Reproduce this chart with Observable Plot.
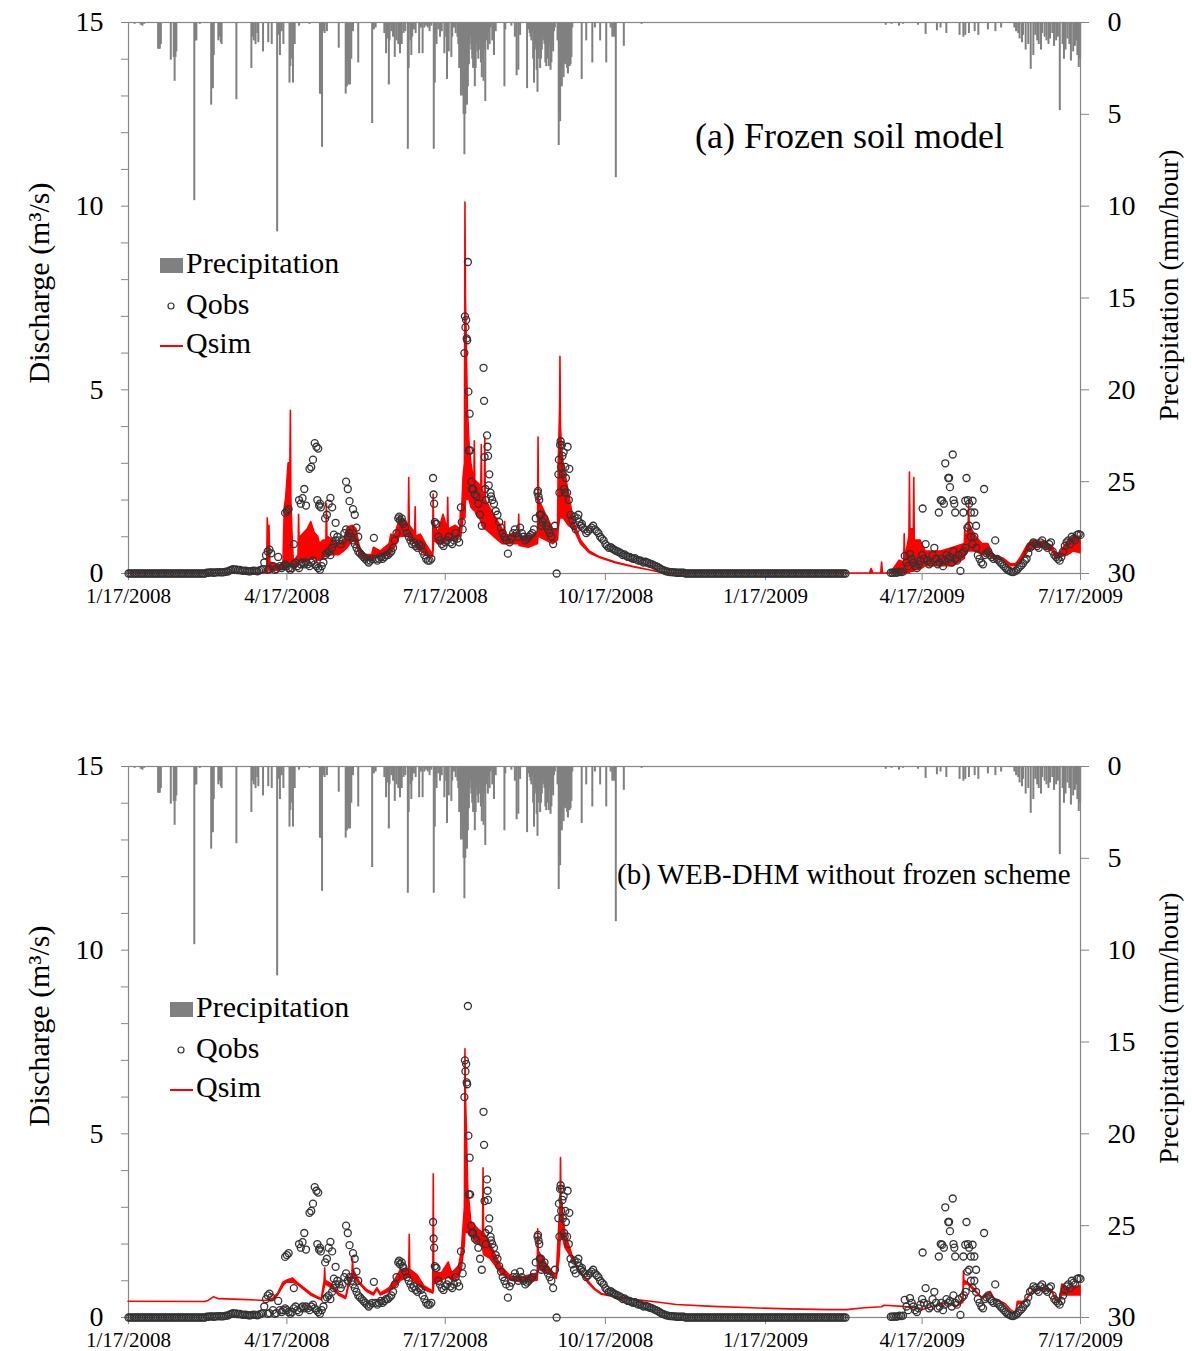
<!DOCTYPE html>
<html><head><meta charset="utf-8">
<script src="https://cdn.jsdelivr.net/npm/d3@7"></script>
<script src="https://cdn.jsdelivr.net/npm/@observablehq/plot@0.6"></script>
<style>
body{margin:0;background:#fff;}
#root{position:relative;width:1192px;height:1351px;overflow:hidden;font-family:"Liberation Serif","Times New Roman",serif;}
#root > svg, #root > div{position:absolute;left:0;}
</style></head><body><div id="root"></div>
<script>
// ---------- data (day offsets from 1/17/2008) ----------
const startDate = [2008, 1, 17];
const xTickLabels = ["1/17/2008","4/17/2008","7/17/2008","10/17/2008","1/17/2009","4/17/2009","7/17/2009"];
const dischargeTicks = [0,1,2,3,4,5,6,7,8,9,10,11,12,13,14,15];
const dischargeLabels = [0,5,10,15];
const precipTicks = [0,5,10,15,20,25,30];
const panelTitles = ["(a) Frozen soil model", "(b) WEB-DHM without frozen scheme"];
const legendLabels = ["Precipitation", "Qobs", "Qsim"];

// observed discharge, daily, in four parts with their starting day offsets
const qobsStarts = [0, 78, 320, 438];
const qobsJanApr2008 = [
 0,0,0,0,0,0,0,0,0,0,0,0,0,0,0,
 0,0,0,0,0,0,0,0,0,0,0,0,0,0,0,
 0,0,0,0,0,0,0,0,0,0,0,0,0,0,0,
 0.02,0.02,0.03,0.03,0.02,0.03,0.03,0.04,0.03,0.03,0.04,0.05,0.05,
 0.08,0.1,0.12,0.1,0.11,0.09,0.1,0.08,0.07,0.08,
 0.07,0.06,0.06,0.07,0.08,0.07,0.06,0.08,0.1,0.12];
const qobsAprNov2008 = [
 0.3,0.5,0.6,0.65,0.55,0.2,0.1,0.12,0.45,0.2,0.15,0.2,
 0.25,0.2,0.15,0.1,0.15,0.25,0.3,0.2,0.15,0.25,
 0.3,0.25,0.3,0.25,0.2,0.3,0.35,0.25,0.2,0.15,
 0.1,0.2,0.3,0.5,0.55,0.6,0.5,0.7,0.8,0.9,
 1.0,0.9,0.8,0.9,1.1,1.2,1.0,1.1,1.0,0.9,
 0.8,0.7,0.6,0.55,0.5,0.45,0.4,0.35,0.3,0.35,
 0.4,0.97,0.4,0.35,0.4,0.45,0.4,0.45,0.5,0.5,
 0.55,0.6,0.7,0.9,1.1,1.5,1.45,1.5,1.35,1.25,
 1.1,1.0,0.9,0.8,0.85,0.75,0.7,0.8,0.75,0.6,
 0.5,0.4,0.35,0.35,0.4,2.6,1.4,1.35,1.0,0.9,
 0.8,0.75,0.85,0.9,1.0,0.85,0.8,0.9,1.1,0.95,
 0.85,1.8,1.2,6.0,6.9,8.48,4.35,2.5,2.3,2.15,
 2.1,1.9,1.6,1.3,5.6,2.3,3.76,2.4,2.2,2.0,
 1.9,1.7,1.6,1.4,1.25,1.1,1.0,0.9,0.54,0.85,
 0.95,1.1,1.2,1.1,1.0,1.25,1.1,1.0,0.9,0.95,
 1.0,1.05,1.1,1.2,1.5,2.2,2.0,1.6,1.4,1.5,
 1.3,1.2,1.1,1.0,0.8,1.3,0,2.7,3.5,3.5,
 3.3,2.9,2.2,2.0,1.6,1.45,1.3,1.2,1.5,1.4,
 1.3,1.25,1.2,1.1,1.15,1.2,1.25,1.3,1.2,1.15,
 1.1,1.0,0.95,0.9,0.8,0.75,0.7,0.72,0.68,0.65,
 0.62,0.6,0.58,0.55,0.5,0.52,0.48,0.45,0.45,0.42,
 0.4,0.42,0.38,0.35,0.36,0.33,0.3,0.32,0.3,0.28,
 0.26,0.25,0.22,0.2,0.18,0.15,0.12,0.1,0.08,0.06,
 0.05,0.04,0.04,0.03,0.03,0.02,0.02,0.02,0.02,0.02];
const qobsDec2008Mar2009 = [
 0,0,0,0,0,0,0,0,0,0, 0,0,0,0,0,0,0,0,0,0, 0,0,0,0,0,0,0,0,0,0,
 0,0,0,0,0,0,0,0,0,0, 0,0,0,0,0,0,0,0,0,0, 0,0,0,0,0,0,0,0,0,0,
 0,0,0,0,0,0,0,0,0,0, 0,0,0,0,0,0,0,0,0,0, 0,0,0,0,0,0,0,0,0,0,
 0,0,0];
const qobsMarJul2009 = [
 0.02,0.02,0.03,0.02,0.03,0.05,0.04,0.05,
 0.48,0.3,0.2,0.53,0.4,0.3,0.2,0.15,0.25,0.35,
 0.5,0.4,0.8,0.35,0.25,0.3,0.5,0.7,0.4,0.25,
 0.3,0.4,0.2,0.35,0.5,0.4,0.45,0.3,0.6,0.4,
 0.35,0.5,0.07,0.55,0.6,0.7,1.25,1.3,1.0,0.8,
 1.0,0.7,0.5,0.4,0.3,0.25,0.5,0.55,0.6,0.5,
 0.45,0.4,0.9,0.4,0.35,0.3,0.25,0.2,0.15,0.1,
 0.08,0.05,0.04,0.05,0.08,0.12,0.18,0.22,0.28,0.35,
 0.4,0.55,0.7,0.75,0.85,0.8,0.75,0.7,0.85,0.9,
 0.8,0.75,0.7,0.8,0.85,0.6,0.5,0.45,0.4,0.35,
 0.45,0.6,0.75,0.85,0.9,0.8,1.0,0.95,0.9,1.05,
 1.07,1.05];
// additional readings on the same days [day, value]
const qobsExtra = [
 [80,0.1],[81,0.12],[90,1.65],[91,1.7],[92,1.75],[95,0.8],[98,2.0],[99,1.9],[100,2.05],[101,2.3],[102,1.85],
 [104,2.85],[105,2.9],[106,3.1],[107,3.55],[108,3.45],[108.5,2.0],[109,3.4],[109.5,1.85],[110,1.9],[110.5,1.8],
 [113,1.5],[114,1.6],[115,1.9],[116,2.06],[117,1.8],[118,1.06],[119,1.38],[125,2.5],[126,2.3],[127,1.97],
 [129,1.75],[130,1.6],[131,1.25],[132,1.0],
 [155.5,1.55],[157.5,1.4],[175.3,2.15],[175.6,1.9],[176.5,1.35],[191.5,1.4],
 [193.3,7.0],[193.6,6.7],[194.3,6.4],[194.6,6.35],[195.3,4.95],[195.6,3.35],[196.3,3.35],[197.3,2.3],
 [204.3,4.7],[204.6,3.17],[205.3,2.0],[206.3,3.45],[206.6,3.2],[207.3,2.7],[208.3,2.1],
 [235.3,2.25],[235.6,2.1],[236.3,1.6],[237.3,1.3],
 [247.3,3.1],[247.6,2.2],[248.3,3.6],[248.6,2.9],[249.3,3.2],[249.6,2.7],[250.3,2.3],[250.6,2.2],
 [251.3,2.6],[252.3,3.45],[253.3,2.85],[256.3,1.55],[258.5,1.6],[260.5,1.35],
 [456.3,1.77],[465.6,1.66],[466.7,2.0],[467.5,1.98],[468.5,1.9],[469.3,3.0],[471,2.6],[471.5,2.6],[472,2.35],
 [473.6,3.24],[474,2.0],[474.5,1.9],[475,1.66],[479.7,1.66],[480.8,1.98],[481.5,2.6],[482.3,2.0],[483,1.9],
 [484,1.66],[485,1.98],[486,1.66],[487,1.3],[491.6,2.3]];

// simulated discharge, frozen soil model [day, low, high] (hourly range)
const qsimFrozen = [
 [0,0,0],[79,0,0],[79.7,0,0.2],[80,0,1.5],[80.4,0.1,1.0],[81,0.1,1.3],[81.5,0.05,0.3],[89,0.1,0.2],[89.8,0.1,1.8],
 [90.5,0.1,2.0],[92,0.2,3.0],[93,0.3,3.0],[93.3,0.3,4.43],[93.6,0.2,2.0],[94.3,0.2,1.0],[95,0.1,0.3],[97.7,0.2,0.5],
 [98,0.3,1.6],[98.3,0.3,0.9],[99,0.3,1.0],[101,0.3,1.1],[103,0.35,1.2],[105,0.4,1.4],[107,0.4,1.1],[109,0.35,1.0],
 [110,0.35,0.8],[112,0.4,0.9],[113.7,0.5,0.9],[114,0.5,1.9],[114.3,0.5,1.0],[118,0.5,0.9],[121,0.5,0.8],[124,0.6,0.9],
 [126,0.7,1.25],[129,0.9,1.3],[131,0.8,1.2],[133,0.5,0.7],[136,0.35,0.5],[140,0.35,0.5],[141,0.4,0.7],[145,0.45,0.6],
 [150,0.5,0.8],[151,0.55,1.06],[153,0.7,1.0],[156,1.0,1.5],[159,1.0,1.4],[161,1.0,1.3],[161.3,1.0,2.6],[161.6,0.9,1.3],
 [164.7,0.8,1.1],[165,0.8,1.8],[165.3,0.7,1.0],[168,0.6,1.06],[171,0.5,0.8],[175,0.45,0.5],[175.3,0.6,2.15],
 [175.6,0.9,1.4],[178,0.8,1.1],[181,0.8,1.6],[183.4,0.9,1.2],[183.7,0.9,2.06],[184,0.9,1.2],[188,0.9,1.3],
 [190.7,1.0,1.2],[191,1.0,1.7],[191.3,1.0,1.3],[192.5,1.5,2.6],[193.3,1.5,3.0],[193.6,1.5,10.1],[193.9,2.0,7.5],
 [194.5,2.0,6.0],[195,2.0,4.5],[196,2.0,3.5],[197,1.8,3.0],[198.7,1.7,2.5],[199,1.7,3.6],[199.3,1.7,2.5],[200,1.6,2.5],
 [202,1.5,2.4],[202.7,1.4,2.3],[203,1.4,3.5],[203.3,1.3,2.2],[204.7,1.2,2.1],[205,1.2,3.7],[205.3,1.2,2.0],
 [210,1.0,1.6],[215,0.8,1.2],[216.1,0.8,1.1],[216.4,0.8,1.4],[216.7,0.8,1.0],[222,0.8,1.1],[224.2,0.8,1.0],
 [224.5,0.8,1.6],[224.8,0.75,1.0],[230,0.7,1.0],[235.3,0.8,1.1],[235.6,1.0,3.7],[235.9,1.0,2.0],[240,0.9,1.6],
 [244,0.8,1.2],[246.8,0.9,1.2],[247.2,1.2,3.0],[248,1.5,4.5],[248.2,1.5,5.9],[248.5,1.5,4.0],[249,1.5,3.5],
 [250,1.5,3.0],[253,1.3,2.2],[256,1.2,1.4],[260,0.8,0.9],[265,0.55,0.6],[271,0.42,0.44],[280,0.28,0.3],
 [290,0.17,0.18],[300,0.08,0.08],[305,0.03,0.03],[312,0,0],[426,0,0],[427,0,0.12],[428,0,0],[432.5,0,0],
 [433,0,0.3],[433.5,0,0],[438,0,0],[443,0,0.35],[445.7,0,0.3],[446,0,1.07],[446.3,0,0.4],[448.7,0,1.0],[449,0,2.75],
 [449.3,0.05,1.2],[451.2,0.05,1.2],[451.5,0.05,2.6],[451.8,0.1,0.9],[455,0.1,0.9],[458,0.2,0.6],[467,0.2,0.6],
 [474,0.2,0.7],[480.5,0.4,0.8],[480.8,0.5,1.25],[481.1,0.5,0.9],[482.7,0.6,1.2],[483,0.6,1.9],[483.3,0.6,1.3],
 [487,0.6,1.0],[490.6,0.5,0.8],[494,0.5,0.8],[497,0.4,0.5],[503,0.35,0.4],[507,0.2,0.25],[510,0.2,0.25],
 [513,0.3,0.45],[517,0.6,0.8],[520,0.7,0.9],[526,0.7,0.85],[531,0.6,0.75],[533,0.4,0.5],[536,0.45,0.6],
 [540,0.5,0.9],[543,0.6,1.0],[547,0.55,1.0]];

// simulated discharge, WEB-DHM without frozen scheme [day, low, high]
const qsimNoFrozen = [
 [0,0.43,0.43],[44,0.42,0.42],[46,0.45,0.45],[49,0.55,0.55],[52,0.5,0.5],[65,0.48,0.48],[79,0.45,0.45],[83,0.45,0.5],
 [86,0.6,0.65],[89,0.85,0.95],[91,0.95,1.0],[94.5,0.95,1.06],[97,0.9,0.95],[101,0.75,0.8],[105,0.6,0.65],[111,0.47,0.5],
 [112.7,0.8,1.0],[113,0.9,1.34],[113.3,0.9,1.0],[117,0.8,0.9],[121,0.6,0.65],[125,0.5,0.55],[127,0.9,1.0],
 [128.7,1.1,1.2],[129,1.2,1.6],[129.3,1.1,1.3],[133,0.9,0.95],[137,0.7,0.75],[141,0.6,0.65],[143,0.75,0.8],
 [145,0.6,0.65],[150,0.7,0.8],[153,0.8,1.0],[156.6,1.0,1.3],[161.3,1.1,1.3],[161.6,1.2,2.25],[161.9,1.1,1.3],
 [166,0.9,1.15],[170,0.75,0.85],[175.1,0.65,0.7],[175.4,0.7,3.9],[175.7,0.9,1.2],[180,1.0,1.2],[184,1.1,1.5],
 [186,1.0,1.2],[190,1.1,1.4],[191.5,1.3,1.8],[193.3,2.0,3.0],[193.6,2.3,7.3],[193.9,2.3,6.0],[194.5,2.3,5.0],
 [195.2,2.3,3.5],[197,2.2,2.6],[201,2.0,2.4],[203.7,1.9,2.3],[204,1.8,4.06],[204.3,1.7,2.3],[208,1.6,2.0],
 [214,1.2,1.4],[220,1.0,1.1],[227,0.95,1.1],[235.1,1.0,1.2],[235.4,1.2,2.4],[235.7,1.3,1.8],[241,1.2,1.4],
 [246,1.05,1.1],[247.5,1.5,2.5],[248.2,2.0,3.0],[248.5,2.3,4.34],[248.8,2.2,3.2],[249.5,2.2,3.0],[251,1.9,2.3],
 [255,1.6,1.7],[259,1.25,1.3],[264,0.95,1.0],[268,0.75,0.78],[272,0.62,0.64],[283,0.52,0.53],[293,0.47,0.47],
 [305,0.4,0.4],[315,0.34,0.34],[336,0.29,0.29],[358,0.25,0.25],[380,0.22,0.22],[402,0.2,0.2],[413,0.2,0.2],
 [423,0.25,0.25],[433,0.28,0.28],[434.4,0.32,0.32],[445,0.29,0.29],[452,0.25,0.25],[456,0.2,0.2],[463,0.3,0.3],
 [469,0.38,0.38],[476,0.29,0.29],[479.7,0.4,0.5],[480,0.8,1.25],[480.3,0.9,1.0],[482.3,0.9,0.95],[485.5,0.75,0.8],
 [488.8,0.6,0.62],[491,0.5,0.52],[495.3,0.65,0.7],[497.5,0.5,0.52],[504,0.35,0.36],[507,0.2,0.2],[510,0.12,0.12],
 [511,0.35,0.43],[515,0.4,0.42],[519.6,0.7,0.72],[525,0.75,0.8],[530.5,0.72,0.75],[533,0.45,0.5],[535,0.4,0.42],
 [536.5,0.6,0.9],[540,0.6,0.8],[547,0.6,0.85]];

// hourly precipitation peaks [day, mm/hour]
const precip = [
 [3.5,0.1],[7,0.15],[8,0.2],[9,0.1],[17,1.45],[17.5,1.45],[18,1.45],[18.6,1.2],[24.3,2.05],[26,1.9],[26.5,3.2],[27,1.9],
 [27.5,1.6],[37.8,9.7],[38.4,1.0],[39,1.0],[41,0.1],[47.5,4.5],[48,3.6],[48.5,3.6],[49,1.8],[51.6,1.0],[52.3,0.8],[53,1.1],
 [53.5,1.2],[62,4.2],[70.6,2.5],[71.2,0.8],[72,1.0],[73,1.2],[74,0.6],[74.6,1.1],[77.3,1.6],[80.3,1.1],[82.3,1.2],
 [85.4,11.4],[86.2,0.7],[87,1.8],[88,0.5],[89,1.2],[92.5,3.3],[93,2.4],[94,2.0],[94.5,3.3],[95.5,1.2],[98,0.2],[104,0.1],
 [110,3.9],[110.5,3.9],[111.2,6.8],[112,0.5],[112.7,0.6],[114,0.5],[120.8,1.4],[124.8,3.9],[125.5,3.5],[126,2.0],
 [126.5,3.4],[127.3,3.4],[128,2.0],[129,0.5],[132,2.2],[140,5.5],[140.5,0.3],[141,0.4],[142,0.3],[147,0.6],[148,1.7],
 [149,0.9],[149.6,3.4],[150,1.0],[151,0.5],[152,0.8],[153,1.9],[154,1.0],[155,1.2],[156,1.7],[157,1.2],[158,0.6],
 [159,0.5],[160.5,6.9],[161,2.5],[162,1.0],[162.5,1.8],[163,0.8],[164,0.4],[165,0.6],[167,1.7],[168,0.3],[169,1.7],
 [170,0.3],[171,0.2],[172,0.3],[173,0.5],[174,0.2],[175.4,6.9],[176,3.3],[176.5,0.6],[177,1.2],[178,0.4],[179,0.8],
 [180,0.5],[181.5,1.7],[182.5,0.8],[183,3.1],[184,1.6],[185.5,1.9],[186,0.8],[187,0.3],[188,0.6],[189,0.8],[189.5,1.2],
 [190,2.5],[190.5,1.8],[191,4.0],[191.5,3.0],[192,4.0],[192.5,5.0],[193,7.2],[193.5,5.0],[194,4.0],[194.5,4.5],
 [195,3.5],[195.6,2.3],[196,1.2],[196.5,0.8],[197,1.5],[197.5,2.0],[198,2.5],[198.5,1.8],[199,3.5],[199.5,2.5],
 [200,1.2],[200.5,1.6],[201,2.0],[201.5,1.0],[202,1.5],[202.5,2.2],[203,3.0],[203.5,2.0],[204,3.2],[204.5,1.5],
 [205,4.3],[205.7,1.0],[206,0.8],[206.5,1.5],[207,0.6],[207.5,1.2],[208,0.3],[209,1.0],[210,1.8],[211,0.5],[216,3.5],
 [216.5,0.4],[220,0.2],[222,0.8],[223,2.9],[224,2.6],[225,0.7],[229,3.6],[230,0.4],[230.5,0.6],[231,0.8],[231.5,1.0],
 [232,0.5],[232.5,2.0],[233,3.3],[233.5,1.5],[234,1.2],[234.5,2.6],[235,3.8],[235.5,2.0],[236,1.3],[236.5,2.5],
 [237,2.0],[237.5,1.5],[238,0.8],[238.5,1.0],[239,1.2],[239.5,2.2],[240,2.4],[240.5,1.8],[241,2.0],[241.5,2.4],
 [242,1.3],[242.5,2.6],[243,2.2],[243.5,1.4],[244,1.6],[244.5,0.5],[245,0.3],[246.5,1.0],[247.2,6.7],[247.6,5.0],
 [248,5.4],[248.5,3.3],[249,3.5],[249.5,2.5],[250,3.0],[250.5,2.2],[251,2.3],[251.5,2.0],[252,2.5],[252.5,2.8],
 [253,2.0],[253.5,2.4],[254,2.3],[254.5,1.9],[255,0.3],[260.4,3.1],[263,1.0],[266.5,2.2],[268,0.3],[271,1.0],
 [274.5,2.2],[277,0.3],[278,0.8],[279,0.8],[280,8.45],[284.6,1.3],[289,0.05],[294.8,0.1],[302,0.05],[311,0.05],
 [323,0.05],[338,0.05],[352,0.05],[367,0.05],[379,0.05],[392,0.05],[404,0.05],[418,0.05],[435.1,0.15],[438.4,0.1],
 [442.7,0.2],[444.9,0.1],[453.6,0.15],[458,0.65],[464.5,0.45],[466.6,0.3],[469.9,0.6],[477.5,0.7],[479.7,0.8],
 [480.8,0.7],[482.9,0.6],[486.2,0.5],[488.3,0.7],[493.8,0.4],[498.1,0.5],[501.4,0.3],[509,0.3],[510,0.5],[511.2,0.6],
 [512,0.9],[513.4,1.1],[514,0.7],[515.5,1.5],[517,1.2],[518.4,2.55],[519.9,1.8],[521,0.7],[522.1,1.0],[523,1.2],
 [524.3,1.5],[525,0.6],[526.4,0.8],[527.5,1.0],[528.6,1.2],[529.5,0.9],[530.8,0.6],[531.8,1.3],[533,1.0],[534,0.8],
 [535.1,4.8],[536.7,1.2],[537.5,2.0],[538.4,1.5],[539.5,0.9],[540.6,1.2],[541.5,2.1],[542.8,1.6],[543.8,1.3],
 [544.5,1.0],[545.2,1.8],[546,2.45],[546.8,2.0]];

// ---------- build ----------
const T0 = Date.UTC(startDate[0], startDate[1] - 1, startDate[2]);
const toDate = d => new Date(T0 + d * 864e5);
const parseLabel = s => { const [m, d, y] = s.split("/").map(Number); return new Date(Date.UTC(y, m - 1, d)); };
const tickDates = xTickLabels.map(parseLabel);
const labelOf = new Map(tickDates.map((d, i) => [+d, xTickLabels[i]]));
const xDomain = [tickDates[0], tickDates[tickDates.length - 1]];

const obsRows = [];
[qobsJanApr2008, qobsAprNov2008, qobsDec2008Mar2009, qobsMarJul2009].forEach((vals, k) =>
  vals.forEach((v, i) => obsRows.push({date: toDate(qobsStarts[k] + i), q: v})));
qobsExtra.forEach(([d, v]) => obsRows.push({date: toDate(d), q: v}));
const precipRows = precip.map(([d, v]) => ({date: toDate(d), mm: v}));
const simRows = s => s.map(([d, lo, hi]) => ({date: toDate(d), lo, hi}));

const FONT = "Liberation Serif, Times New Roman, serif";
const W = 1192, H = 613, M = {marginTop: 22, marginBottom: 40, marginLeft: 128, marginRight: 112};
const AX = "#868686";
const root = document.getElementById("root");

function panel(sim, top) {
  const pp = Plot.plot({
    width: W, height: H, ...M,
    style: {fontFamily: FONT, background: "transparent", color: "black"},
    x: {type: "utc", domain: xDomain, axis: null},
    y: {domain: [0, 30], reverse: true, axis: null},
    marks: [
      Plot.ruleX(precipRows, {x: "date", y1: 0, y2: "mm", stroke: "#808080", strokeWidth: 2}),
      Plot.axisY({anchor: "right", ticks: precipTicks, tickSize: 8, tickPadding: 19, fontSize: 28,
                  stroke: AX, fill: "black", label: null})
    ]
  });
  pp.style.top = top + "px";
  root.appendChild(pp);
  const dp = Plot.plot({
    width: W, height: H, ...M,
    style: {fontFamily: FONT, background: "transparent", color: "black"},
    x: {type: "utc", domain: xDomain},
    y: {domain: [0, 15]},
    marks: [
      Plot.frame({stroke: AX, strokeWidth: 1.2}),
      Plot.axisY({ticks: dischargeTicks, tickFormat: d => dischargeLabels.includes(d) ? String(d) : "",
                  tickSize: 7, tickPadding: 18, fontSize: 28, stroke: AX, fill: "black", label: null}),
      Plot.axisX({ticks: tickDates, tickFormat: d => labelOf.get(+d), tickSize: 7, tickPadding: 8,
                  fontSize: 21, stroke: AX, fill: "black", label: null}),
      Plot.areaY(simRows(sim), {x: "date", y1: "lo", y2: "hi", fill: "#ff0000", stroke: "#ff0000", strokeWidth: 1.6}),
      Plot.dot(obsRows, {x: "date", y: "q", r: 3.5, stroke: "#333333", strokeWidth: 1.3, fill: "none"})
    ]
  });
  dp.style.top = top + "px";
  root.appendChild(dp);
}
panel(qsimFrozen, 0);
panel(qsimNoFrozen, 744);

// ---------- titles, legends, axis titles ----------
const NS = "http://www.w3.org/2000/svg";
const ov = document.createElementNS(NS, "svg");
ov.setAttribute("width", W); ov.setAttribute("height", 1351);
ov.style.top = "0px"; ov.style.fontFamily = FONT;
function el(tag, attrs, text) {
  const e = document.createElementNS(NS, tag);
  for (const k in attrs) e.setAttribute(k, attrs[k]);
  if (text != null) e.textContent = text;
  ov.appendChild(e); return e;
}
const legends = [
  {x: 160, y: 258, tx: 186, rows: [273, 314, 353], cy: 306, ly: 346},
  {x: 170, y: 1002, tx: 196, rows: [1017, 1058, 1097], cy: 1050, ly: 1090}
];
legends.forEach(L => {
  el("rect", {x: L.x, y: L.y, width: 23, height: 15, fill: "#808080"});
  el("circle", {cx: L.x + 11, cy: L.cy, r: 3, fill: "none", stroke: "#333333", "stroke-width": 1.2});
  el("line", {x1: L.x, x2: L.x + 23, y1: L.ly, y2: L.ly, stroke: "#ff0000", "stroke-width": 2});
  legendLabels.forEach((t, i) => el("text", {x: L.tx, y: L.rows[i], "font-size": 30}, t));
});
el("text", {x: 695, y: 148, "font-size": 36}, panelTitles[0]);
el("text", {x: 617, y: 884, "font-size": 29}, panelTitles[1]);
[[283, 285], [1026, 1028]].forEach(([cl, cr]) => {
  el("text", {transform: `translate(38,${cl}) rotate(-90)`, "text-anchor": "middle", dy: "0.35em", "font-size": 30}, "Discharge (m³/s)");
  el("text", {transform: `translate(1168,${cr}) rotate(-90)`, "text-anchor": "middle", dy: "0.35em", "font-size": 28}, "Precipitation (mm/hour)");
});
root.appendChild(ov);
</script></body></html>
